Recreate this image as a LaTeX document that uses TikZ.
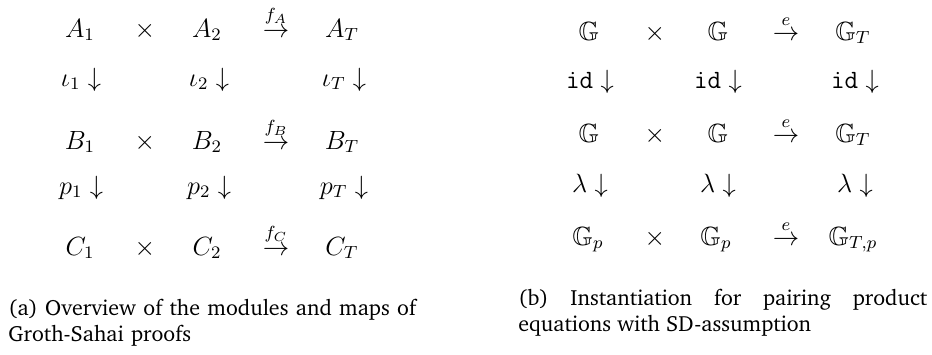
\documentclass[tikz,border=0pt]{standalone}
\usepackage[T1]{fontenc}
\usepackage{charter}
\usepackage{amssymb}
\tikzset{
    entry/.style={anchor=base, inner sep=0pt, black, font=\large},
    capt/.style={anchor=base west, inner sep=0pt, text width=186pt, font=\normalsize}
}
\begin{document}
\begin{tikzpicture}[x=0.455pt, y=-0.455pt]
    \useasboundingbox (0,0) rectangle (932,354);
    % (a) modules and maps
    \node[entry] (a1) at (80,37) {$A_1$};
    \node[entry] (ax) at (145,37) {$\times$};
    \node[entry] (a2) at (207,37) {$A_2$};
    \node[entry] (fa) at (276,37) {$\stackrel{f_A}{\rightarrow}$};
    \node[entry] (at) at (342,37) {$A_T$};
    \node[entry] (i1) at (81,86) {$\iota_1\downarrow$};
    \node[entry] (i2) at (209,86) {$\iota_2\downarrow$};
    \node[entry] (it) at (344,86) {$\iota_T\downarrow$};
    \node[entry] (b1) at (80,149) {$B_1$};
    \node[entry] (bx) at (145,149) {$\times$};
    \node[entry] (b2) at (207,149) {$B_2$};
    \node[entry] (fb) at (276,149) {$\stackrel{f_B}{\rightarrow}$};
    \node[entry] (bt) at (342,149) {$B_T$};
    \node[entry] (p1) at (81,194) {$p_1\downarrow$};
    \node[entry] (p2) at (209,194) {$p_2\downarrow$};
    \node[entry] (pt) at (344,194) {$p_T\downarrow$};
    \node[entry] (c1) at (80,255) {$C_1$};
    \node[entry] (cx) at (145,255) {$\times$};
    \node[entry] (c2) at (207,255) {$C_2$};
    \node[entry] (fc) at (276,255) {$\stackrel{f_C}{\rightarrow}$};
    \node[entry] (ct) at (342,255) {$C_T$};
    \node[capt, align=left] (capa) at (8,315) {(a) Overview of the modules and maps of\\Groth-Sahai proofs};
    % (b) pairing product equations
    \node[entry] (g1) at (589,40) {$\mathbb{G}$};
    \node[entry] (gx) at (655,40) {$\times$};
    \node[entry] (g2) at (718,40) {$\mathbb{G}$};
    \node[entry] (e1) at (786,40) {$\stackrel{e}{\rightarrow}$};
    \node[entry] (gt) at (853,40) {$\mathbb{G}_T$};
    \node[entry] (d1) at (590,88) {$\mathtt{id}\downarrow$};
    \node[entry] (d2) at (718,88) {$\mathtt{id}\downarrow$};
    \node[entry] (dt) at (855,88) {$\mathtt{id}\downarrow$};
    \node[entry] (h1) at (589,142) {$\mathbb{G}$};
    \node[entry] (hx) at (655,142) {$\times$};
    \node[entry] (h2) at (718,142) {$\mathbb{G}$};
    \node[entry] (e2) at (786,142) {$\stackrel{e}{\rightarrow}$};
    \node[entry] (ht) at (853,142) {$\mathbb{G}_T$};
    \node[entry] (l1) at (590,192) {$\lambda\downarrow$};
    \node[entry] (l2) at (718,192) {$\lambda\downarrow$};
    \node[entry] (lt) at (855,192) {$\lambda\downarrow$};
    \node[entry] (q1) at (588,245) {$\mathbb{G}_p$};
    \node[entry] (qx) at (655,245) {$\times$};
    \node[entry] (q2) at (716,245) {$\mathbb{G}_p$};
    \node[entry] (e3) at (786,245) {$\stackrel{e}{\rightarrow}$};
    \node[entry] (qt) at (853,245) {$\mathbb{G}_{T,p}$};
    \node[capt, align=justify] (capb) at (518,305) {(b) Instantiation for pairing product\linebreak equations with SD-assumption};
\end{tikzpicture}
\end{document}
